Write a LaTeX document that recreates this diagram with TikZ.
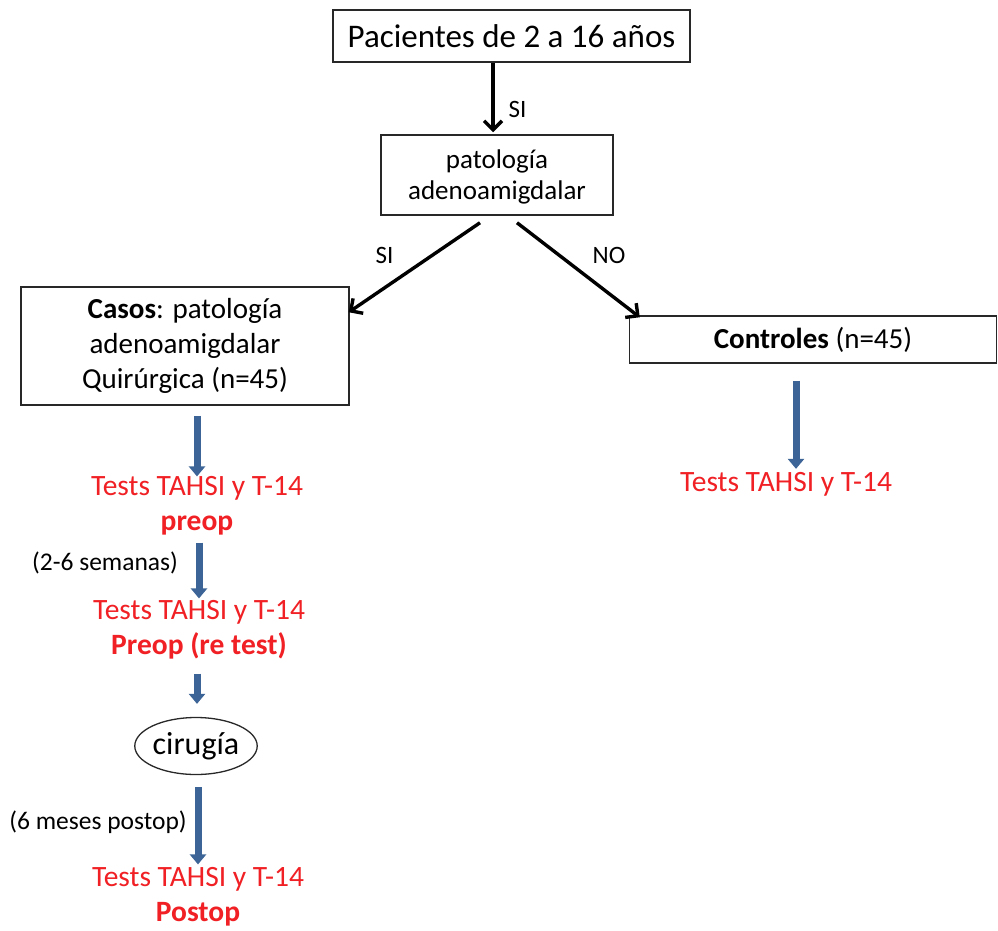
\documentclass[tikz,border=0pt]{standalone}
\usepackage{fontspec}
\setmainfont{Carlito}
\usetikzlibrary{arrows.meta,shapes.geometric,calc}
\definecolor{arrblue}{RGB}{60,100,150}
\definecolor{txtred}{RGB}{240,32,36}
\definecolor{boxgray}{RGB}{40,40,40}
\newcommand\myfs[2]{\fontsize{#1}{#2}\selectfont}
\begin{document}
\begin{tikzpicture}[x=1pt,y=-1pt,
  box/.style={draw=boxgray,line width=1.5pt,inner sep=0pt,align=center},
  blk/.style={draw=black,line width=3.4pt,-{Straight Barb[length=9pt,width=18pt]}},
  blu/.style={draw=arrblue,line width=7pt,-{Triangle[length=10pt,width=16pt]}},
  rtxt/.style={text=txtred,inner sep=0pt,align=center,font=\myfs{29.5}{35}},
  lbl/.style={inner sep=0pt,font=\myfs{25}{28}},
  note/.style={inner sep=0pt,font=\myfs{25.5}{28}}]
\useasboundingbox[fill=white] (0,0) rectangle (998,931);
% boxes
\node[box,minimum width=357pt,minimum height=52pt,font=\myfs{33}{40}] (pac) at (511.5,36) {Pacientes de 2 a 16 años};
\node[box,minimum width=232pt,minimum height=80pt,font=\myfs{27}{31},text depth=0pt] (pat) at (497,175) {patología\\adenoamigdalar};
\node[box,minimum width=328pt,minimum height=118pt,font=\myfs{29}{35}] (casos) at (185,346) {\textbf{Casos}: patología\\adenoamigdalar\\Quirúrgica (n=45)};
\node[box,minimum width=367pt,minimum height=47pt,font=\myfs{29}{34}] (ctrl) at (813,339.5) {\textbf{Controles} (n=45)};
\node[draw=boxgray,line width=1.3pt,ellipse,minimum width=115pt,minimum height=57pt,inner sep=0pt,font=\myfs{32}{38}] (cir) at (196,746) {cirugía};
% red texts
\node[rtxt] (t1) at (197,506) {Tests TAHSI y T-14\\\textbf{preop}};
\node[rtxt] (t2) at (199,630) {Tests TAHSI y T-14\\\textbf{Preop (re test)}};
\node[rtxt] (t3) at (198,897) {Tests TAHSI y T-14\\\textbf{Postop}};
\node[rtxt] (tc) at (786,484) {Tests TAHSI y T-14};
% labels
\node[lbl] (l1) at (517.5,109) {SI};
\node[lbl] (l2) at (384.5,255.5) {SI};
\node[lbl] (l3) at (609,255.5) {NO};
\node[note] (n1) at (105,563) {(2-6 semanas)};
\node[note] (n2) at (98,822) {(6 meses postop)};
% black arrows
\draw[blk] ($(pat.north |- pac.south)+(-4,0)$) -- ($(pat.north)+(-4,-2)$);
\draw[blk] ($(pat.south)+(-17,7)$) -- ($(casos.north east)+(-1,26)$);
\draw[blk] ($(pat.south)+(20,7)$) -- ($(ctrl.north west)+(11,2)$);
% blue arrows
\draw[blu] ($(t1.north |- casos.south)+(0,10)$) -- (t1.north);
\draw[blu] ($(t2.north |- t1.south)+(0,7)$) -- ($(t2.north)+(0,-2)$);
\draw[blu] ($(cir.north |- t2.south)+(1,14)$) -- ($(cir.north)+(1,-13)$);
\draw[blu] ($(cir.south)+(2,12)$) -- ($(t3.north)+(0,-3)$);
\draw[blu] ($(tc.north |- ctrl.south)+(10,17)$) -- ($(tc.north)+(10,-3)$);
\end{tikzpicture}
\end{document}
